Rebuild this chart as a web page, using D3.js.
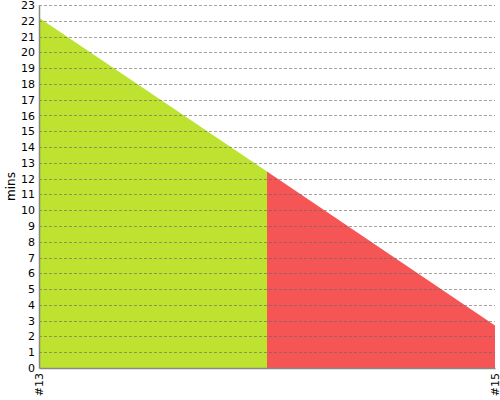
<!DOCTYPE html>
<html>
<head>
<meta charset="utf-8">
<script src="https://cdn.jsdelivr.net/npm/d3@7"></script>
<style>
  body { margin: 0; background: #fff; }
  text { font-family: "DejaVu Sans", sans-serif; }
</style>
</head>
<body>
<svg id="chart"></svg>
<script>
// burndown: sprint number and minutes remaining
const sprints = [13, 14, 15];
const remaining = [22.2, 12.45, 2.7];
const tickSprints = [13, 15];
const tickLabels = ['#13', '#15'];
const yTicks = d3.range(0, 24);
const segmentColors = ['#bde230', '#f55555'];

const margin = { top: 5, right: 5, bottom: 32, left: 39 };
const width = 500 - margin.left - margin.right;
const height = 400 - margin.top - margin.bottom;

const svg = d3.select('#chart')
  .attr('width', 500)
  .attr('height', 400)
  .append('g')
  .attr('transform', `translate(${margin.left},${margin.top})`);

const x = d3.scaleLinear().domain([13, 15]).range([0, width]);
const y = d3.scaleLinear().domain([0, 23]).range([height, 0]);

const points = sprints.map((s, i) => ({ s, v: remaining[i] }));

const area = d3.area()
  .x((d) => x(d.s))
  .y0(height)
  .y1((d) => y(d.v));

// one filled segment per sprint step
segmentColors.forEach((c, i) => {
  svg.append('path')
    .datum(points.slice(i, i + 2))
    .attr('fill', c)
    .attr('d', area);
});

// dashed grid on top
svg.append('g')
  .selectAll('line')
  .data(yTicks.filter((t) => t > 0))
  .join('line')
  .attr('x1', 0)
  .attr('x2', width)
  .attr('y1', (d) => Math.round(y(d)) + 0.5)
  .attr('y2', (d) => Math.round(y(d)) + 0.5)
  .attr('stroke', '#666')
  .attr('stroke-opacity', 0.6)
  .attr('stroke-dasharray', '3,2');

const yAxis = svg.append('g')
  .call(d3.axisLeft(y).tickValues(yTicks).tickSize(0).tickPadding(4));
yAxis.select('.domain').attr('stroke', '#888').attr('stroke-width', 1.5);
yAxis.selectAll('text').attr('font-size', 11).attr('fill', '#000');

const xAxis = svg.append('g')
  .attr('transform', `translate(0,${height})`)
  .call(d3.axisBottom(x).tickValues(tickSprints)
    .tickFormat((d, i) => tickLabels[i]).tickSize(0).tickPadding(6));
xAxis.select('.domain').attr('stroke', '#888').attr('stroke-width', 1.5);
xAxis.selectAll('text')
  .attr('font-size', 11)
  .attr('fill', '#000')
  .attr('text-anchor', 'end')
  .attr('transform', 'rotate(-90)')
  .attr('x', -5)
  .attr('y', 0)
  .attr('dy', '0.35em');

svg.append('text')
  .attr('transform', 'rotate(-90)')
  .attr('x', -height / 2)
  .attr('y', -24.5)
  .attr('text-anchor', 'middle')
  .attr('font-size', 12)
  .text('mins');
</script>
</body>
</html>
